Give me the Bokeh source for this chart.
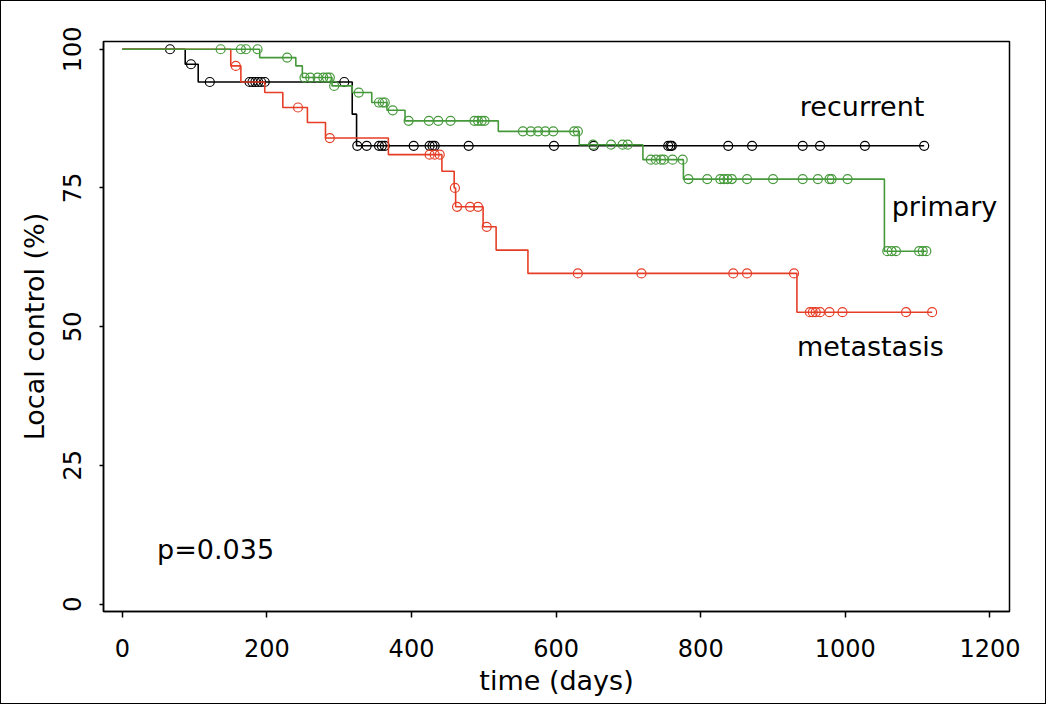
from bokeh.plotting import figure
from bokeh.models import Range1d, FixedTicker, Label
from bokeh.embed import file_html
from bokeh.resources import INLINE

# ---------------- data ----------------
x_ticks = [0, 200, 400, 600, 800, 1000, 1200]
y_ticks = [0, 25, 50, 75, 100]

# primary (green)
primary_times = [0, 190, 240, 249, 290, 318, 345, 366, 391, 520, 632, 720, 776, 1054]
primary_surv = [100, 98.5, 97.0, 94.9, 93.4, 92.2, 90.4, 89.0, 87.1, 85.2, 82.8, 80.1, 76.6, 63.6]
primary_end = 1112
primary_censor = [136, 164, 171, 187, 228, 252, 260, 270, 278, 283, 287, 293, 327, 355, 360, 363,
                  374, 396, 424, 437, 454, 487, 492, 497, 501, 554, 565, 575, 585, 596, 625, 630,
                  651, 676, 692, 699, 731, 738, 745, 749, 761, 775, 783, 809, 827, 832, 837, 843,
                  864, 900, 941, 962, 978, 981, 1003, 1058, 1064, 1070, 1102, 1107, 1112]

# recurrent (black)
recurrent_times = [0, 87, 105, 318, 324]
recurrent_surv = [100, 97.3, 94.1, 88.3, 82.6]
recurrent_end = 1109
recurrent_censor = [66, 95, 121, 176, 180, 184, 188, 192, 197, 307, 325, 338, 355, 359, 363,
                    403, 425, 429, 432, 479, 597, 652, 755, 758, 760, 838, 871, 941, 965, 1027, 1109]

# metastasis (red)
metastasis_times = [0, 150, 164, 197, 222, 256, 281, 368, 442, 459, 461, 499, 517, 561, 933]
metastasis_surv = [100, 97.0, 94.1, 92.2, 89.5, 86.8, 84.0, 81.0, 78.0, 75.0, 71.6, 68.0, 63.8, 59.6, 52.6]
metastasis_end = 1120
metastasis_censor = [157, 243, 287, 425, 432, 439, 460, 463, 481, 492, 504, 630, 718, 845, 864,
                     929, 951, 955, 959, 965, 978, 996, 1084, 1120]

GREEN = "#45993a"
RED = "#e63e26"
BLACK = "#000000"
FONT = "DejaVu Sans"


def level_at(times, surv, t):
    lev = surv[0]
    for ti, si in zip(times, surv):
        if ti <= t:
            lev = si
    return lev


p = figure(width=1046, height=704, output_backend="svg", toolbar_location=None,
           x_range=Range1d(-26, 1227), y_range=Range1d(-1.35, 101.4),
           min_border_left=102, min_border_right=38, min_border_top=40, min_border_bottom=94)
p.styles = {"border": "1px solid black"}

p.xgrid.visible = False
p.ygrid.visible = False
p.outline_line_color = "black"
p.outline_line_width = 1.5
p.background_fill_color = "white"
p.border_fill_color = "white"

for times, surv, end, cens, col in [
    (recurrent_times, recurrent_surv, recurrent_end, recurrent_censor, BLACK),
    (metastasis_times, metastasis_surv, metastasis_end, metastasis_censor, RED),
    (primary_times, primary_surv, primary_end, primary_censor, GREEN),
]:
    xs = list(times) + [end]
    ys = list(surv) + [surv[-1]]
    p.step(xs, ys, mode="after", line_color=col, line_width=1.6)
    cy = [level_at(times, surv, c) for c in cens]
    p.scatter(cens, cy, marker="circle", size=9, fill_color=None, line_color=col, line_width=1.2)

# axes
p.xaxis.ticker = FixedTicker(ticks=x_ticks)
p.yaxis.ticker = FixedTicker(ticks=y_ticks)
for ax in (p.xaxis, p.yaxis):
    ax.minor_tick_line_color = None
    ax.major_tick_in = 0
    ax.axis_line_color = "black"
    ax.axis_line_width = 1.5
    ax.major_tick_line_width = 1.5
    ax.major_label_text_font = FONT
    ax.major_label_text_font_size = "24px"
    ax.major_label_text_color = "black"
    ax.axis_label_text_font = FONT
    ax.axis_label_text_font_size = "27px"
    ax.axis_label_text_font_style = "normal"
    ax.axis_label_text_color = "black"

p.xaxis.major_tick_out = 6
p.yaxis.major_tick_out = 4
p.xaxis.major_label_standoff = 21
p.yaxis.major_label_standoff = 18
p.yaxis.major_label_orientation = "vertical"
p.xaxis.axis_label = "time (days)"
p.yaxis.axis_label = "Local control (%)"
p.xaxis.axis_label_standoff = 5
p.yaxis.axis_label_standoff = 11

# curve labels
for txt, x, y in [("recurrent", 937, 89.7), ("primary", 1064, 71.6),
                  ("metastasis", 933, 46.4), ("p=0.035", 48, 9.9)]:
    p.add_layout(Label(x=x, y=y, text=txt, text_font=FONT, text_font_size="27px",
                       text_color="black", text_baseline="middle", text_align="left"))

open("out.html", "w").write(file_html(p, INLINE))
